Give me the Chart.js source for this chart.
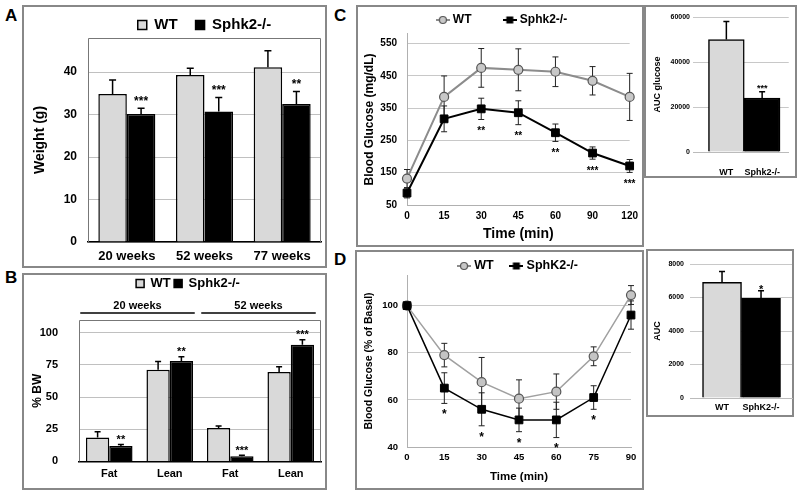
<!DOCTYPE html>
<html><head><meta charset="utf-8">
<script src="https://cdn.jsdelivr.net/npm/chart.js@4.4.1/dist/chart.umd.min.js"></script>
<style>
html,body{margin:0;padding:0;background:#fff;width:800px;height:496px;overflow:hidden;position:relative;font-family:'Liberation Sans',Arial,sans-serif;}
.box{position:absolute;border:2px solid #888;box-sizing:border-box;}
.lbl{position:absolute;font-weight:bold;font-size:17px;line-height:17px;color:#000;}
canvas{position:absolute;}
</style></head><body>
<div class="box" style="left:22px;top:5px;width:305px;height:263px"></div>
<div class="box" style="left:22px;top:273px;width:305px;height:217px"></div>
<div class="box" style="left:356px;top:5px;width:288px;height:242px"></div>
<div class="box" style="left:644px;top:5px;width:153px;height:173px"></div>
<div class="box" style="left:355px;top:250px;width:289px;height:240px"></div>
<div class="box" style="left:646px;top:249px;width:148px;height:168px"></div>
<div class="lbl" style="left:5px;top:7px">A</div>
<div class="lbl" style="left:5px;top:269px">B</div>
<div class="lbl" style="left:334px;top:7px">C</div>
<div class="lbl" style="left:334px;top:251px">D</div>
<canvas id="cA" width="303" height="261" style="left:23px;top:6px"></canvas>
<canvas id="cB" width="303" height="215" style="left:23px;top:274px"></canvas>
<canvas id="cC" width="286" height="240" style="left:357px;top:6px"></canvas>
<canvas id="cCi" width="151" height="171" style="left:645px;top:6px"></canvas>
<canvas id="cD" width="287" height="237" style="left:356px;top:252px"></canvas>
<canvas id="cDi" width="146" height="166" style="left:647px;top:250px"></canvas>
<script>
// ---------- DATA ----------
const weightCategories = ['20 weeks', '52 weeks', '77 weeks'];
const weightWT = [34.8, 39.3, 41.1];
const weightWTErr = [3.3, 1.6, 3.9];
const weightKO = [30.1, 30.7, 32.5];
const weightKOErr = [1.4, 3.3, 2.9];
const weightKOSig = ['***', '***', '**'];
const weightTicks = [0, 10, 20, 30, 40];

const bwCategories = ['Fat', 'Lean', 'Fat', 'Lean'];
const bwGroups = ['20 weeks', '52 weeks'];
const bwWT = [18.5, 71.3, 26, 69.6];
const bwWTErr = [4.5, 6.4, 1.5, 4];
const bwKO = [12, 78.2, 4, 90.7];
const bwKOErr = [1.2, 3.2, 0.7, 4];
const bwKOSig = ['**', '**', '***', '***'];
const bwTicks = [0, 25, 50, 75, 100];

const gttTimes = ['0', '15', '30', '45', '60', '90', '120'];
const gttWT = [132, 385, 475, 469, 463, 435, 385];
const gttWTErr = [28, 65, 60, 65, 46, 44, 73];
const gttKO = [87, 317, 348, 336, 274, 211, 171];
const gttKOErr = [15, 40, 33, 37, 27, 19, 20];
const gttKOSig = ['', '', '**', '**', '**', '***', '***'];
const gttTicks = [50, 150, 250, 350, 450, 550];

const gttAucLabels = ['WT', 'Sphk2-/-'];
const gttAuc = [50000, 24000];
const gttAucErr = [8000, 2800];
const gttAucSig = ['', '***'];

const ittTimes = ['0', '15', '30', '45', '60', '75', '90'];
const ittWT = [100, 79, 67.5, 60.5, 63.5, 78.5, 104.5];
const ittWTErr = [0, 5, 10.5, 8, 7.5, 4, 4];
const ittKO = [100, 65, 56, 51.5, 51.5, 61, 96];
const ittKOErr = [0, 6.5, 7, 5, 7.5, 5, 6];
const ittKOSig = ['', '*', '*', '*', '*', '*', ''];
const ittTicks = [40, 60, 80, 100];

const ittAucLabels = ['WT', 'SphK2-/-'];
const ittAuc = [6900, 5950];
const ittAucErr = [650, 450];
const ittAucSig = ['', '*'];

// ---------- STYLE ----------
const FONT = "'Liberation Sans', Arial, sans-serif";
const WT_FILL = '#d9d9d9';
Chart.defaults.font.family = FONT;
Chart.defaults.font.weight = 'bold';
Chart.defaults.color = '#000';
Chart.defaults.animation = false;
Chart.defaults.plugins.tooltip.enabled = false;

// ---------- PLUGINS ----------
function valOf(v) { return (v !== null && typeof v === 'object') ? v.y : v; }
function drawErrors(chart, o) {
  const ctx = chart.ctx, y = chart.scales.y;
  chart.data.datasets.forEach((ds, i) => {
    if (!ds.errors) return;
    const meta = chart.getDatasetMeta(i);
    meta.data.forEach((el, j) => {
      const e = ds.errors[j]; if (!e) return;
      const v = valOf(ds.data[j]);
      const top = y.getPixelForValue(v + e);
      const bot = o.mode === 'up' ? y.getPixelForValue(v) : y.getPixelForValue(v - e);
      const cap = o.cap || 3;
      ctx.save();
      ctx.strokeStyle = o.color || '#000';
      ctx.lineWidth = o.width || 1;
      ctx.beginPath();
      ctx.moveTo(el.x, top); ctx.lineTo(el.x, bot);
      ctx.moveTo(el.x - cap, top); ctx.lineTo(el.x + cap, top);
      if (o.mode !== 'up') { ctx.moveTo(el.x - cap, bot); ctx.lineTo(el.x + cap, bot); }
      ctx.stroke();
      ctx.restore();
    });
  });
}
function drawStars(chart, o) {
  const ctx = chart.ctx, y = chart.scales.y;
  chart.data.datasets.forEach((ds, i) => {
    if (!ds.sig) return;
    const meta = chart.getDatasetMeta(i);
    meta.data.forEach((el, j) => {
      const s = ds.sig[j]; if (!s) return;
      const v = valOf(ds.data[j]); const e = (ds.errors && ds.errors[j]) || 0;
      const fs = o.starFont || 11;
      let cy;
      if (o.starPos === 'below') cy = y.getPixelForValue(v - e) + o.starGap;
      else cy = y.getPixelForValue(v + e) - o.starGap;
      ctx.save();
      ctx.font = 'bold ' + fs + 'px ' + FONT;
      ctx.fillStyle = '#000';
      ctx.textAlign = 'center';
      ctx.textBaseline = 'alphabetic';
      ctx.fillText(s, el.x, cy + 0.57 * fs);
      ctx.restore();
    });
  });
}
const errorBarPlugin = {
  id: 'errorBars',
  beforeDatasetsDraw(chart, args, o) { if (o.behind) drawErrors(chart, o); },
  afterDatasetsDraw(chart, args, o) { if (!o.behind) drawErrors(chart, o); drawStars(chart, o); }
};
const framePlugin = {
  id: 'frame',
  beforeDatasetsDraw(chart, args, o) {
    if (!o.color) return;
    const {left, top, right, bottom} = chart.chartArea, ctx = chart.ctx;
    ctx.save(); ctx.strokeStyle = o.color; ctx.lineWidth = 1;
    ctx.beginPath();
    ctx.moveTo(Math.round(left) + 0.5, bottom); ctx.lineTo(Math.round(left) + 0.5, Math.round(top) + 0.5);
    ctx.lineTo(Math.round(right) - 0.5, Math.round(top) + 0.5); ctx.lineTo(Math.round(right) - 0.5, bottom);
    ctx.stroke(); ctx.restore();
  }
};
const groupPlugin = {
  id: 'groups',
  afterDraw(chart, args, o) {
    if (!o.names) return;
    const x = chart.scales.x, ctx = chart.ctx, top = chart.chartArea.top;
    o.names.forEach((n, i) => {
      const x0 = x.getPixelForValue(i * o.per) - o.padL;
      const x1 = x.getPixelForValue(i * o.per + o.per - 1) + o.padR;
      ctx.save();
      ctx.strokeStyle = '#000'; ctx.lineWidth = 1.5;
      ctx.beginPath(); ctx.moveTo(x0, top - o.lineGap); ctx.lineTo(x1, top - o.lineGap); ctx.stroke();
      ctx.font = 'bold ' + o.fontSize + 'px ' + FONT; ctx.fillStyle = '#000';
      ctx.textAlign = 'center'; ctx.textBaseline = 'middle';
      ctx.fillText(n, (x0 + x1) / 2, top - o.textGap);
      ctx.restore();
    });
  }
};
// fixes the legend box height and optionally nudges it sideways
function fixLegend(h, dx) {
  return {
    id: 'fixLegend',
    afterInit(chart) {
      const lg = chart.legend; if (!lg) return;
      const orig = lg.fit;
      lg.fit = function () { orig.call(this); this.height = h; };
    },
    afterLayout(chart) {
      const lg = chart.legend; if (!lg || !dx) return;
      lg.left += dx; lg.right += dx;
    }
  };
}
function lineMarker(kind) {
  const c = document.createElement('canvas'); c.width = 14; c.height = 10;
  const g = c.getContext('2d');
  g.strokeStyle = kind === 'circle' ? '#8c8c8c' : '#000'; g.lineWidth = 2;
  g.beginPath(); g.moveTo(0, 5); g.lineTo(14, 5); g.stroke();
  if (kind === 'circle') {
    g.beginPath(); g.arc(7, 5, 3.5, 0, Math.PI * 2); g.fillStyle = '#c8c8c8'; g.fill();
    g.strokeStyle = '#555'; g.lineWidth = 1.2; g.stroke();
  } else { g.fillStyle = '#000'; g.fillRect(3.5, 1.5, 7, 7); }
  return c;
}
const markerImgs = [lineMarker('circle'), lineMarker('rect')];
function markerLabels(chart) {
  return Chart.defaults.plugins.legend.labels.generateLabels(chart)
    .map(it => Object.assign(it, { pointStyle: markerImgs[it.datasetIndex] }))
    .sort((a, b) => a.datasetIndex - b.datasetIndex);
}
const setTicks = arr => s => { s.ticks = arr.map(v => ({value: v})); };

// ---------- A ----------
new Chart(document.getElementById('cA'), {
  type: 'bar',
  data: { labels: weightCategories, datasets: [
    { label: 'WT', data: weightWT, errors: weightWTErr, backgroundColor: WT_FILL, borderColor: '#000', borderWidth: 1.5 },
    { label: 'Sphk2-/-', data: weightKO, errors: weightKOErr, sig: weightKOSig, backgroundColor: '#000', borderColor: '#000', borderWidth: 1.5 }
  ]},
  options: {
    responsive: false,
    layout: { padding: { top: -6.5, left: 0, right: 5, bottom: 0 } },
    datasets: { bar: { categoryPercentage: 0.734, barPercentage: 1 } },
    scales: {
      x: { grid: { display: false, drawTicks: false }, border: { color: '#000', width: 1.5 },
           ticks: { font: { size: 13 }, padding: 7, maxRotation: 0, autoSkip: false },
           afterFit: s => { s.height = 25; } },
      y: { min: 0, max: 48, afterBuildTicks: setTicks(weightTicks),
           grid: { color: '#c0c0c0', drawTicks: false }, border: { display: false },
           ticks: { font: { size: 12 }, padding: 11 },
           title: { display: true, text: 'Weight (g)', font: { size: 14 }, padding: { top: 9, bottom: 0 } },
           afterFit: s => { s.width = 65; } }
    },
    plugins: {
      legend: { fullSize: false, labels: { boxWidth: 9, boxHeight: 9, padding: 18, font: { size: 15 } } },
      errorBars: { mode: 'up', cap: 3.5, width: 1.5, starGap: 10, starFont: 12 },
      frame: { color: '#777' }
    }
  },
  plugins: [errorBarPlugin, framePlugin, fixLegend(38.5, 0)]
});

// ---------- B ----------
new Chart(document.getElementById('cB'), {
  type: 'bar',
  data: { labels: bwCategories, datasets: [
    { label: 'WT', data: bwWT, errors: bwWTErr, backgroundColor: WT_FILL, borderColor: '#000', borderWidth: 1.5 },
    { label: 'Sphk2-/-', data: bwKO, errors: bwKOErr, sig: bwKOSig, backgroundColor: '#000', borderColor: '#000', borderWidth: 1.5 }
  ]},
  options: {
    responsive: false,
    layout: { padding: { top: -0.3, left: 0, right: 5, bottom: 0 } },
    datasets: { bar: { categoryPercentage: 0.77, barPercentage: 1 } },
    scales: {
      x: { grid: { display: false, drawTicks: false }, border: { color: '#000', width: 1.5 },
           ticks: { font: { size: 11 }, padding: 6, maxRotation: 0, autoSkip: false },
           afterFit: s => { s.height = 20; } },
      y: { min: 0, max: 110, afterBuildTicks: setTicks(bwTicks),
           grid: { color: '#c0c0c0', drawTicks: false }, border: { display: false },
           ticks: { font: { size: 11 }, padding: 21 },
           title: { display: true, text: '% BW', font: { size: 12 }, padding: { top: 7, bottom: 0 } },
           afterFit: s => { s.width = 56; } }
    },
    plugins: {
      legend: { fullSize: true, labels: { boxWidth: 8, boxHeight: 8, padding: 3.3, font: { size: 13 } } },
      errorBars: { mode: 'up', cap: 3, width: 1.5, starGap: 8, starFont: 11 },
      frame: { color: '#777' },
      groups: { names: bwGroups, per: 2, padL: 29, padR: 25, lineGap: 7, textGap: 14, fontSize: 11 }
    }
  },
  plugins: [errorBarPlugin, framePlugin, groupPlugin, fixLegend(46.3, 16)]
});

// ---------- C ----------
new Chart(document.getElementById('cC'), {
  type: 'line',
  data: { labels: gttTimes, datasets: [
    { label: 'WT', data: gttWT, errors: gttWTErr, order: 1, clip: false, borderColor: '#8c8c8c', borderWidth: 2,
      pointStyle: 'circle', pointRadius: 4.5, pointBackgroundColor: '#c8c8c8', pointBorderColor: '#555', pointBorderWidth: 1.2 },
    { label: 'Sphk2-/-', data: gttKO, errors: gttKOErr, sig: gttKOSig, order: 0, clip: false, borderColor: '#000', borderWidth: 2,
      pointStyle: 'rect', pointRadius: 5.5, pointBackgroundColor: '#000', pointBorderColor: '#000', pointBorderWidth: 1 }
  ]},
  options: {
    responsive: false,
    layout: { padding: { top: -26.3, left: 0, right: 12, bottom: 0 } },
    scales: {
      x: { offset: false, grid: { display: false, drawTicks: false }, border: { color: '#b0b0b0' },
           ticks: { font: { size: 10 }, padding: 5, maxRotation: 0, autoSkip: false },
           title: { display: true, text: 'Time (min)', font: { size: 14 }, padding: { top: 0, bottom: 3 } },
           afterFit: s => { s.height = 41; } },
      y: { min: 50, max: 580, afterBuildTicks: setTicks(gttTicks),
           grid: { color: '#c8c8c8', drawTicks: false }, border: { color: '#b0b0b0' },
           ticks: { font: { size: 10 }, padding: 10 },
           title: { display: true, text: 'Blood Glucose (mg/dL)', font: { size: 12 }, padding: { top: 5, bottom: 0 } },
           afterFit: s => { s.width = 50; } }
    },
    plugins: {
      legend: { fullSize: true, labels: { usePointStyle: true, pointStyleWidth: 8, padding: 34.3, font: { size: 12 }, generateLabels: markerLabels } },
      errorBars: { mode: 'both', behind: true, cap: 3, width: 1, color: '#222', starPos: 'below', starGap: 9, starFont: 10 }
    }
  },
  plugins: [errorBarPlugin, fixLegend(54.3, 9)]
});

// ---------- C inset ----------
new Chart(document.getElementById('cCi'), {
  type: 'bar',
  data: { datasets: [
    { label: 'AUC glucose', data: gttAuc.map((v, i) => ({ x: i + 1, y: v })), errors: gttAucErr, sig: gttAucSig,
      backgroundColor: [WT_FILL, '#000'], borderColor: '#000', borderWidth: 1.5, categoryPercentage: 1, barPercentage: 1 }
  ]},
  options: {
    responsive: false,
    layout: { padding: { top: 11, left: 0, right: 4, bottom: 0 } },
    scales: {
      x: { type: 'linear', min: 0.0676, max: 2.743, offset: false,
           afterBuildTicks: s => { s.ticks = gttAucLabels.map((l, i) => ({ value: i + 1 })); },
           grid: { display: false, drawTicks: false }, border: { color: '#bbb' },
           ticks: { callback: v => gttAucLabels[v - 1], font: { size: 9 }, padding: 15, maxRotation: 0, autoSkip: false },
           afterFit: s => { s.height = 25; } },
      y: { min: 0, max: 60000, ticks: { stepSize: 20000, callback: v => String(v), font: { size: 7 }, padding: 3 },
           grid: { color: '#c8c8c8', drawTicks: false }, border: { display: false },
           title: { display: true, text: 'AUC glucose', font: { size: 9 }, padding: { top: 7.6, bottom: 0 } },
           afterFit: s => { s.width = 48; } }
    },
    plugins: {
      legend: { display: false },
      errorBars: { mode: 'up', cap: 3, width: 1.5, starGap: 6, starFont: 9 }
    }
  },
  plugins: [errorBarPlugin]
});

// ---------- D ----------
new Chart(document.getElementById('cD'), {
  type: 'line',
  data: { labels: ittTimes, datasets: [
    { label: 'WT', data: ittWT, errors: ittWTErr, order: 1, clip: false, borderColor: '#a0a0a0', borderWidth: 1.5,
      pointStyle: 'circle', pointRadius: 4.5, pointBackgroundColor: '#c4c4c4', pointBorderColor: '#555', pointBorderWidth: 1.2 },
    { label: 'SphK2-/-', data: ittKO, errors: ittKOErr, sig: ittKOSig, order: 0, clip: false, borderColor: '#000', borderWidth: 1.5,
      pointStyle: 'rect', pointRadius: 5.5, pointBackgroundColor: '#000', pointBorderColor: '#000', pointBorderWidth: 1 }
  ]},
  options: {
    responsive: false,
    layout: { padding: { top: -10.85, left: 0, right: 12, bottom: 0 } },
    scales: {
      x: { offset: false, grid: { display: false, drawTicks: false }, border: { color: '#b0b0b0' },
           ticks: { font: { size: 9.5 }, padding: 5, maxRotation: 0, autoSkip: false },
           title: { display: true, text: 'Time (min)', font: { size: 11.5 }, padding: { top: 0, bottom: 5 } },
           afterFit: s => { s.height = 42; } },
      y: { min: 40, max: 113, afterBuildTicks: setTicks(ittTicks),
           grid: { color: '#c8c8c8', drawTicks: false }, border: { color: '#b0b0b0' },
           ticks: { font: { size: 9.5 }, padding: 9 },
           title: { display: true, text: 'Blood Glucose (% of Basal)', font: { size: 10.5 }, padding: { top: 7, bottom: 0 } },
           afterFit: s => { s.width = 51; } }
    },
    plugins: {
      legend: { fullSize: false, labels: { usePointStyle: true, pointStyleWidth: 8, padding: 18.6, font: { size: 12.5 }, generateLabels: markerLabels } },
      errorBars: { mode: 'both', behind: true, cap: 3, width: 1, color: '#222', starPos: 'below', starGap: 8, starFont: 12 }
    }
  },
  plugins: [errorBarPlugin, fixLegend(33.85, 0)]
});

// ---------- D inset ----------
new Chart(document.getElementById('cDi'), {
  type: 'bar',
  data: { datasets: [
    { label: 'AUC', data: ittAuc.map((v, i) => ({ x: i + 1, y: v })), errors: ittAucErr, sig: ittAucSig,
      backgroundColor: [WT_FILL, '#000'], borderColor: '#000', borderWidth: 1.5, categoryPercentage: 1, barPercentage: 1 }
  ]},
  options: {
    responsive: false,
    layout: { padding: { top: 14, left: 0, right: 1, bottom: 0 } },
    scales: {
      x: { type: 'linear', min: 0.179, max: 2.794, offset: false,
           afterBuildTicks: s => { s.ticks = ittAucLabels.map((l, i) => ({ value: i + 1 })); },
           grid: { display: false, drawTicks: false }, border: { color: '#bbb' },
           ticks: { callback: v => ittAucLabels[v - 1], font: { size: 9 }, padding: 4, maxRotation: 0, autoSkip: false },
           afterFit: s => { s.height = 18; } },
      y: { min: 0, max: 8000, ticks: { stepSize: 2000, callback: v => String(v), font: { size: 7 }, padding: 6 },
           grid: { color: '#c8c8c8', drawTicks: false }, border: { display: false },
           title: { display: true, text: 'AUC', font: { size: 9 }, padding: { top: 5.6, bottom: 0 } },
           afterFit: s => { s.width = 43; } }
    },
    plugins: {
      legend: { display: false },
      errorBars: { mode: 'up', cap: 3, width: 1.5, starGap: 4, starFont: 11 }
    }
  },
  plugins: [errorBarPlugin]
});
</script>
</body></html>
